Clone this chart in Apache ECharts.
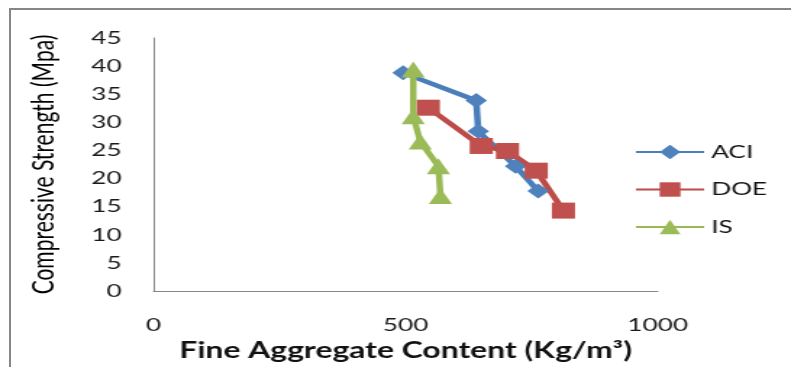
<!DOCTYPE html>
<html>
<head>
<meta charset="utf-8">
<script src="https://cdn.jsdelivr.net/npm/echarts@6/dist/echarts.min.js"></script>
<style>
  html, body { margin: 0; padding: 0; background: #fff; width: 791px; height: 367px; overflow: hidden; }
  #frame { position: absolute; left: 9px; top: 8px; width: 900px; height: 500px;
           border-left: 2px solid #868686; border-top: 2px solid #868686; }
  /* chart is laid out narrow and widened horizontally */
  #chart { position: absolute; left: 0; top: 0; width: 546px; height: 367px;
           transform: scaleX(1.4487); transform-origin: 0 0; }
</style>
</head>
<body>
<div id="frame"></div>
<div id="chart"></div>
<script>
// Fine aggregate content (kg/m3) vs compressive strength (MPa) per mix design method
const seriesNames = ['ACI', 'DOE', 'IS'];

const aciContent  = [495, 640, 644, 718, 763];
const aciStrength = [38.8, 33.9, 28.4, 22.2, 17.8];

const doeContent  = [545, 650, 702, 759, 813];
const doeStrength = [32.6, 25.8, 24.9, 21.4, 14.3];

const isContent   = [515, 515, 529, 565, 569];
const isStrength  = [39.4, 31.1, 26.6, 22.2, 16.9];

const xTicks = [0, 500, 1000];
const yTicks = [0, 5, 10, 15, 20, 25, 30, 35, 40, 45];

const FONT = 'Lato';
const pairs = (xs, ys) => xs.map((x, i) => [x, ys[i]]);

const chart = echarts.init(document.getElementById('chart'), null, { renderer: 'canvas' });

function lineSeries(name, xs, ys, symbol, size, lineColor, markColor) {
  return {
    name: name,
    type: 'line',
    data: pairs(xs, ys),
    symbol: symbol,
    symbolSize: size,
    showAllSymbol: true,
    lineStyle: { color: lineColor, width: 4.5 },
    itemStyle: { color: markColor, borderWidth: 0 },
    emphasis: { disabled: true },
    animation: false
  };
}

chart.setOption({
  animation: false,
  grid: { left: 106, right: 92, top: 38, bottom: 74, containLabel: false },
  legend: {
    orient: 'vertical',
    left: 433,
    top: 138,
    padding: 5,
    itemWidth: 47,
    itemHeight: 18,
    itemGap: 19.5,
    selectedMode: false,
    data: seriesNames,
    textStyle: { fontFamily: FONT, fontSize: 18, color: '#111', padding: [0, 0, 0, 0] }
  },
  xAxis: {
    type: 'value',
    min: xTicks[0],
    max: xTicks[xTicks.length - 1],
    interval: xTicks[1] - xTicks[0],
    name: 'Fine Aggregate Content (Kg/m\u00B3)',
    nameLocation: 'middle',
    nameGap: 49,
    nameTextStyle: { fontFamily: FONT, fontSize: 22, fontWeight: 'bold', color: '#111', verticalAlign: 'top' },
    axisLine: { show: true, lineStyle: { color: '#868686', width: 1 } },
    axisTick: { show: false },
    splitLine: { show: false },
    axisLabel: { fontFamily: FONT, fontSize: 18, color: '#1a1a1a', margin: 25,
                 formatter: v => String(v) }
  },
  yAxis: {
    type: 'value',
    min: yTicks[0],
    max: yTicks[yTicks.length - 1],
    interval: yTicks[1] - yTicks[0],
    name: 'Compressive Strength (Mpa)',
    nameLocation: 'middle',
    nameGap: 65,
    nameTextStyle: { fontFamily: FONT, fontSize: 21, color: '#000' },
    axisLine: { show: true, lineStyle: { color: '#868686', width: 1 } },
    axisTick: { show: false },
    splitLine: { show: false },
    axisLabel: { fontFamily: FONT, fontSize: 18, color: '#1a1a1a', margin: 22,
                 formatter: v => String(v) }
  },
  series: [
    lineSeries(seriesNames[0], aciContent, aciStrength, 'diamond', 15, '#4A7EBB', '#4F81BD'),
    lineSeries(seriesNames[1], doeContent, doeStrength, 'rect', 16, '#BE4B48', '#C0504D'),
    lineSeries(seriesNames[2], isContent, isStrength, 'triangle', 16, '#98B954', '#9BBB59')
  ]
});
</script>
</body>
</html>
